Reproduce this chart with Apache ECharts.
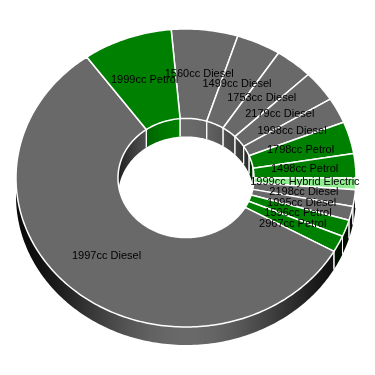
<!DOCTYPE html>
<html>
<head>
<meta charset="utf-8">
<script src="https://cdn.jsdelivr.net/npm/echarts@6/dist/echarts.min.js"></script>
<style>html,body{margin:0;padding:0;background:#fff}#c{width:375px;height:375px}</style>
</head>
<body>
<div id="c"></div>
<script>
// ---- data ----
const categories = ['1560cc Diesel','1499cc Diesel','1753cc Diesel','2179cc Diesel','1998cc Diesel',
  '1798cc Petrol','1498cc Petrol','1999cc Hybrid Electric','2198cc Diesel','1995cc Diesel',
  '1596cc Petrol','2967cc Petrol','1997cc Diesel','1999cc Petrol'];
const values = [22.75, 15.25, 13, 12, 10, 12.5, 9.5, 4.5, 6.5, 5.5, 6.5, 6.5, 204.8, 30.7];
const fuelColors = { 'Diesel': '#696969', 'Petrol': '#008000', 'Hybrid Electric': '#90ee90' };

// ---- layout / style ----
const CX = 186, CY = 178, RX = 170, RY = 149, INNER = 0.4, DEPTH = 18, START = -5, LABEL_R = 0.7;
const DEG = Math.PI / 180;

const total = values.reduce((a, b) => a + b, 0);
let acc = 0;
const ranges = values.map(v => { const s = acc; acc += v; return [s, acc]; });
const seriesData = ranges.map((r, i) => [r[0], r[1], i]);

function colorOf(i) {
  const name = categories[i];
  const fuel = name.substring(name.indexOf(' ') + 1);
  return fuelColors[fuel];
}
function shade(hex, f) {
  const n = parseInt(hex.slice(1), 16);
  const r = Math.round(((n >> 16) & 255) * f), g = Math.round(((n >> 8) & 255) * f), b = Math.round((n & 255) * f);
  return 'rgb(' + r + ',' + g + ',' + b + ')';
}
function angOf(v) { return START + v / total * 360; }
function pt(api, r, aDeg, dy) {
  const a = aDeg * DEG;
  return api.coord([CX + r * RX * Math.sin(a), CY - r * RY * Math.cos(a) + (dy || 0)]);
}
function intersect(a0, a1, b0, b1) {
  const s = Math.max(a0, b0), e = Math.min(a1, b1);
  return s < e ? [s, e] : null;
}

function wallItem(api, r, visRanges, shadeFn) {
  const i = api.value(2);
  const a0 = angOf(api.value(0)), a1 = angOf(api.value(1));
  const base = colorOf(i);
  const children = [];
  visRanges.forEach(rg => {
    const seg = intersect(a0, a1, rg[0], rg[1]);
    if (!seg) return;
    const n = Math.max(2, Math.ceil((seg[1] - seg[0]) / 1));
    const topPts = [], botPts = [], angs = [];
    for (let k = 0; k <= n; k++) {
      const t = seg[0] + (seg[1] - seg[0]) * k / n;
      angs.push(t);
      topPts.push(pt(api, r, t));
      botPts.push(pt(api, r, t, DEPTH));
    }
    const xa = topPts[0][0], xb = topPts[n][0];
    const span = (xb - xa) || 1;
    const stops = angs.map((t, k) => ({ offset: Math.min(1, Math.max(0, (topPts[k][0] - xa) / span)), color: shade(base, shadeFn(t)) }));
    stops.sort((p, q) => p.offset - q.offset);
    const ymid = topPts[0][1];
    children.push({
      type: 'polygon',
      shape: { points: topPts.concat(botPts.slice().reverse()) },
      style: {
        fill: { type: 'linear', x: xa, y: ymid, x2: xb, y2: ymid, global: true, colorStops: stops },
        stroke: null
      }
    });
    [a0, a1].forEach(b => {
      if (b > rg[0] + 0.01 && b < rg[1] - 0.01) {
        const p = pt(api, r, b), q = pt(api, r, b, DEPTH);
        children.push({ type: 'line', shape: { x1: p[0], y1: p[1], x2: q[0], y2: q[1] },
          style: { stroke: '#ffffff', lineWidth: 1 }, z2: 5 });
      }
    });
  });
  return { type: 'group', children: children };
}

const outerWall = {
  type: 'custom', coordinateSystem: 'cartesian2d', data: seriesData, silent: true, z: 1,
  renderItem: function (params, api) {
    return wallItem(api, 1, [[90, 270]], function (t) {
      const c = Math.cos((t - 180) * DEG);
      return 0.1 + 0.9 * Math.pow(Math.max(0, c), 4);
    });
  }
};
const innerWall = {
  type: 'custom', coordinateSystem: 'cartesian2d', data: seriesData, silent: true, z: 2,
  renderItem: function (params, api) {
    return wallItem(api, INNER, [[-90, 90], [270, 450]], function (t) {
      const c = Math.cos(t * DEG);
      return 0.3 + 0.7 * c * c;
    });
  }
};
const topFace = {
  type: 'custom', coordinateSystem: 'cartesian2d', data: seriesData, silent: true, z: 3,
  renderItem: function (params, api) {
    const i = api.value(2);
    const a0 = angOf(api.value(0)), a1 = angOf(api.value(1));
    const n = Math.max(2, Math.ceil((a1 - a0) / 1));
    const pts = [];
    for (let k = 0; k <= n; k++) pts.push(pt(api, 1, a0 + (a1 - a0) * k / n));
    for (let k = n; k >= 0; k--) pts.push(pt(api, INNER, a0 + (a1 - a0) * k / n));
    return {
      type: 'polygon', shape: { points: pts },
      style: { fill: colorOf(i), stroke: '#ffffff', lineWidth: 1.5, lineJoin: 'round' }
    };
  }
};
const labels = {
  type: 'custom', coordinateSystem: 'cartesian2d', data: seriesData, silent: true, z: 4,
  renderItem: function (params, api) {
    const i = api.value(2);
    const m = (angOf(api.value(0)) + angOf(api.value(1))) / 2;
    const p = pt(api, LABEL_R, m);
    return {
      type: 'text', x: p[0], y: p[1],
      style: { text: categories[i], fill: '#000000', font: '11px "Liberation Sans", Arial, sans-serif',
        align: 'center', verticalAlign: 'middle' }
    };
  }
};

const chart = echarts.init(document.getElementById('c'), null, { renderer: 'canvas' });
chart.setOption({
  animation: false,
  backgroundColor: '#ffffff',
  grid: { left: 0, right: 0, top: 0, bottom: 0 },
  xAxis: { type: 'value', min: 0, max: 375, show: false },
  yAxis: { type: 'value', min: 0, max: 375, inverse: true, show: false },
  series: [outerWall, innerWall, topFace, labels]
});
</script>
</body>
</html>
